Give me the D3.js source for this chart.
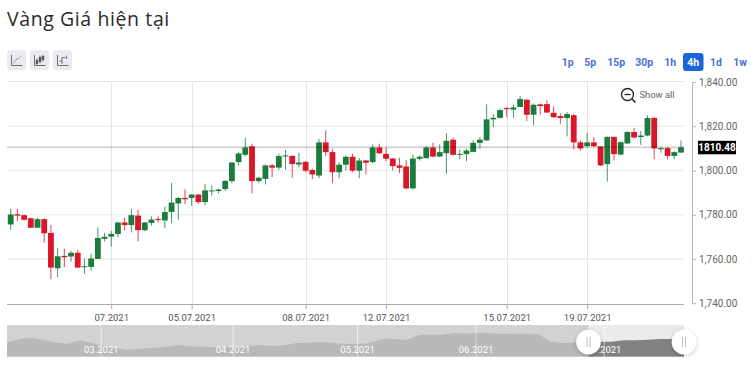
<!DOCTYPE html>
<html><head><meta charset="utf-8">
<script src="https://cdn.jsdelivr.net/npm/d3@7/dist/d3.min.js"></script>
<style>
html,body{margin:0;padding:0;background:#fff;overflow:hidden}
svg{display:block}
text{font-family:Roboto,sans-serif}
</style></head><body>
<div id="chart"></div>
<script>
const chartTitle = "Vàng Giá hiện tại";
const opens = [1775.6,1780.2,1779.8,1778.4,1774.1,1778.0,1771.8,1755.8,1761.4,1761.1,1762.8,1756.3,1756.4,1760.0,1769.1,1770.1,1771.3,1776.5,1775.3,1779.6,1773.0,1776.3,1778.1,1777.4,1781.3,1785.1,1787.6,1787.6,1789.1,1785.7,1790.7,1790.7,1791.6,1795.2,1803.8,1807.1,1810.9,1795.2,1796.2,1802.3,1801.3,1806.5,1806.6,1802.7,1803.9,1800.2,1797.7,1812.7,1808.3,1799.2,1802.6,1806.2,1799.9,1804.5,1803.8,1810.4,1807.5,1805.4,1802.3,1801.8,1791.9,1805.3,1805.6,1810.4,1806.3,1807.8,1813.9,1807.1,1807.4,1808.4,1812.5,1813.6,1823.1,1823.8,1828.2,1827.5,1828.7,1832.0,1825.2,1829.9,1830.0,1826.1,1824.6,1823.7,1825.0,1812.7,1811.0,1812.7,1810.9,1802.9,1815.2,1807.2,1812.2,1817.4,1815.1,1815.8,1823.8,1809.6,1810.1,1806.6,1808.1];
const highs = [1782.7,1782.7,1780.1,1778.7,1778.7,1778.3,1775.4,1765.0,1764.7,1763.7,1764.1,1760.3,1762.3,1774.2,1771.8,1772.6,1776.8,1778.7,1782.7,1782.2,1776.6,1779.2,1779.3,1783.7,1794.4,1787.9,1791.4,1789.4,1789.4,1794.0,1793.2,1791.7,1795.6,1803.9,1808.3,1814.8,1812.1,1797.0,1802.7,1803.0,1807.5,1809.3,1806.9,1808.0,1804.2,1800.8,1814.3,1818.1,1809.8,1803.8,1806.8,1807.5,1805.7,1804.8,1811.8,1812.1,1810.3,1805.7,1805.7,1804.8,1807.2,1806.8,1810.9,1812.5,1811.8,1816.9,1814.8,1809.5,1809.8,1813.6,1815.1,1829.9,1825.6,1828.0,1828.7,1829.7,1833.6,1832.1,1830.2,1830.2,1831.7,1828.9,1825.9,1826.5,1825.6,1813.6,1817.0,1815.1,1810.9,1815.4,1815.2,1813.1,1817.8,1819.2,1817.8,1824.9,1824.1,1810.6,1810.6,1808.7,1813.6];
const lows = [1773.2,1777.1,1777.4,1774.1,1774.1,1767.4,1750.8,1751.7,1756.3,1758.7,1756.1,1753.3,1754.8,1760.0,1768.0,1765.6,1769.8,1772.9,1772.0,1768.0,1772.6,1775.1,1776.6,1773.9,1776.2,1777.8,1784.9,1784.0,1784.9,1784.3,1788.7,1789.7,1790.7,1794.3,1802.3,1806.3,1789.7,1794.3,1793.7,1797.0,1800.3,1800.3,1796.7,1801.5,1799.2,1796.2,1796.5,1806.5,1794.3,1796.5,1800.0,1799.2,1796.5,1798.2,1803.3,1807.5,1804.2,1800.0,1798.8,1791.6,1791.4,1804.5,1805.3,1806.0,1806.0,1798.5,1806.8,1805.1,1804.2,1808.3,1809.8,1813.3,1819.6,1823.5,1824.1,1823.7,1828.7,1822.3,1820.4,1825.2,1825.9,1823.8,1821.1,1815.4,1809.5,1809.0,1810.6,1810.6,1802.0,1795.0,1804.5,1806.9,1812.1,1814.5,1811.6,1815.5,1805.1,1808.0,1805.0,1805.1,1807.9];
const closes = [1780.1,1779.6,1777.7,1774.1,1778.0,1771.6,1756.1,1761.2,1760.8,1762.8,1756.1,1756.7,1760.2,1769.5,1770.0,1771.3,1776.5,1775.3,1779.8,1773.0,1776.5,1777.8,1777.7,1781.2,1785.5,1787.6,1787.0,1789.1,1785.7,1791.0,1791.0,1791.4,1795.3,1803.6,1807.7,1810.4,1795.2,1796.7,1802.3,1801.3,1806.5,1806.8,1802.9,1803.6,1799.9,1798.2,1812.7,1808.3,1799.2,1802.6,1806.2,1799.9,1804.5,1803.5,1810.4,1807.8,1805.3,1802.0,1801.2,1791.9,1805.4,1806.2,1810.4,1806.3,1808.3,1813.4,1807.1,1807.5,1809.0,1812.5,1813.9,1823.1,1823.8,1827.3,1827.7,1828.5,1832.3,1825.2,1829.7,1829.1,1826.2,1824.1,1823.7,1825.5,1812.7,1810.0,1812.7,1811.0,1802.3,1815.2,1807.4,1812.8,1817.4,1814.9,1815.8,1823.7,1810.0,1810.1,1806.6,1808.3,1810.48];
const yTicks = [1740,1760,1780,1800,1820,1840];
const dateTickIndex = [15,27,44,56,74,86];
const dateTickLabels = ["07.2021","05.07.2021","08.07.2021","12.07.2021","15.07.2021","19.07.2021"];
const currentPrice = 1810.48;
const timeframes = ["1p","5p","15p","30p","1h","4h","1d","1w"];
const activeTimeframe = "4h";
const navPrices = [1787,1819,1831,1812,1787,1775,1806,1781,1750,1734,1719,1728,1734,1744,1762,1750,1747,1744,1741,1747,1753,1762,1753,1762,1781,1784,1791,1781,1772,1775,1778,1819,1822,1809,1853,1862,1859,1875,1869,1878,1872,1866,1869,1869,1862,1794,1781,1787,1787,1794,1794,1806,1806,1812,1819,1819,1800];
const navMonthLabels = ["03.2021","04.2021","05.2021","06.2021","07.2021"];
const navMonthIndex = [7.8,18.7,29,38.8,49.4];
const navSelection = [48.1,56];

const W=755,H=368;
const plot={l:7,r:684,t:81,b:304,axis:692};
const svg=d3.select("#chart").append("svg").attr("width",W).attr("height",H);

const x=d3.scaleLinear().domain([0,opens.length-1]).range([10.7,681]);
const y=d3.scaleLinear().domain([1740,1840]).range([303.2,82]);

svg.append("text").attr("x",7).attr("y",26).attr("font-size",19.5).attr("letter-spacing",0.6)
  .attr("fill","#2a2a2a").style("font-family","'Open Sans',sans-serif").text(chartTitle);

// chart-type buttons
const iconG=svg.append("g");
[7,30,53].forEach((bx,k)=>{
  const g=iconG.append("g").attr("transform",`translate(${bx},50)`);
  g.append("rect").attr("width",19).attr("height",20).attr("rx",3).attr("fill","#e9ebf0");
  g.append("path").attr("d","M4.5 5V15.5H15.5").attr("fill","none").attr("stroke","#5f6368").attr("stroke-width",0.9);
  if(k===0) g.append("path").attr("d","M6.5 13L9 9.5L11.5 8.5L14 6").attr("fill","none").attr("stroke","#777").attr("stroke-width",1).attr("stroke-dasharray","1.5 .6");
  if(k===1){
    [[7,10,14],[10,7,12],[13,6,10]].forEach(c=>{
      g.append("line").attr("x1",c[0]).attr("x2",c[0]).attr("y1",c[1]-1.5).attr("y2",c[2]+1.5).attr("stroke","#555").attr("stroke-width",.7);
      g.append("rect").attr("x",c[0]-1.2).attr("y",c[1]).attr("width",2.4).attr("height",c[2]-c[1]).attr("fill","#555");
    });
  }
  if(k===2) g.append("path").attr("d","M6.5 11H9V7.5H12.5M9 11V14M13.5 5.5V9").attr("fill","none").attr("stroke","#666").attr("stroke-width",.9);
});

// timeframes
const tfCenters={"1p":567.7,"5p":590.3,"15p":616.3,"30p":644.3,"1h":670.3,"4h":693.3,"1d":716,"1w":740};
svg.append("rect").attr("x",683).attr("y",53).attr("width",20.5).attr("height",18).attr("rx",3).attr("fill","#1b66d6");
svg.append("g").selectAll("text").data(timeframes).join("text")
  .attr("x",d=>tfCenters[d]).attr("y",65.5).attr("text-anchor","middle").attr("font-size",10.5).attr("font-weight",700)
  .attr("fill",d=>d===activeTimeframe?"#fff":"#4c6fd8").text(d=>d);

// grid
const grid=svg.append("g");
grid.append("line").attr("x1",plot.l).attr("x2",plot.r).attr("y1",81.5).attr("y2",81.5).attr("stroke","#e3e3e3");
grid.selectAll(".h").data(yTicks.slice(1,5)).join("line").attr("class","h")
  .attr("x1",plot.l).attr("x2",plot.r).attr("y1",d=>y(d)).attr("y2",d=>y(d)).attr("stroke","#eeeeee").attr("stroke-width",1.4);
grid.selectAll(".v").data(dateTickIndex).join("line").attr("class","v")
  .attr("x1",d=>Math.round(x(d))+.5).attr("x2",d=>Math.round(x(d))+.5).attr("y1",plot.t).attr("y2",plot.b).attr("stroke","#e3e3e3");

// candles
const idx=d3.range(opens.length);
const colour=i=>closes[i]>=opens[i]?"#1b7d3d":"#d8172a";
const candles=svg.append("g");
candles.selectAll("line").data(idx).join("line")
  .attr("x1",i=>x(i)).attr("x2",i=>x(i)).attr("y1",i=>y(highs[i])).attr("y2",i=>y(lows[i]))
  .attr("stroke",colour).attr("stroke-width",1).attr("stroke-opacity",.8);
candles.selectAll("rect").data(idx).join("rect")
  .attr("x",i=>x(i)-2.9).attr("width",5.8)
  .attr("y",i=>y(Math.max(opens[i],closes[i])))
  .attr("height",i=>Math.max(1,Math.abs(y(opens[i])-y(closes[i]))))
  .attr("fill",colour);

// current price line
svg.append("line").attr("x1",plot.l).attr("x2",plot.r).attr("y1",y(currentPrice)).attr("y2",y(currentPrice))
  .attr("stroke","#000").attr("stroke-opacity",.17).attr("stroke-width",2);

// axes
const xAxis=d3.axisBottom(x).tickValues(dateTickIndex).tickSize(5).tickPadding(5)
  .tickFormat((d,i)=>dateTickLabels[i]);
const xg=svg.append("g").attr("transform",`translate(0,${plot.b})`).call(xAxis);
xg.select(".domain").attr("d",`M${plot.l},0.5H${plot.r}`).attr("stroke","#aaa");
xg.selectAll(".tick line").attr("stroke","#aaa");
xg.selectAll("text").attr("font-size",9.5).attr("fill","#555").style("font-family","Roboto,sans-serif");

const yAxis=d3.axisRight(y).tickValues(yTicks).tickSize(4).tickPadding(3).tickFormat(d3.format(",.2f"));
const yg=svg.append("g").attr("transform",`translate(${plot.axis},0)`).call(yAxis);
yg.select(".domain").attr("d",`M0.5,${y(1840)}V${y(1740)}`).attr("stroke","#b5b5b5");
yg.selectAll(".tick line").attr("stroke","#b5b5b5");
yg.selectAll("text").attr("font-size",10).attr("fill","#666").style("font-family","Roboto,sans-serif");

// current price tag
svg.append("rect").attr("x",698).attr("y",y(currentPrice)-6.5).attr("width",38).attr("height",13.5).attr("fill","#000");
svg.append("text").attr("x",717).attr("y",y(currentPrice)+3.7).attr("text-anchor","middle").attr("font-size",10)
  .attr("font-weight",700).attr("fill","#fff").text(d3.format(".2f")(currentPrice));

// show all
const za=svg.append("g").attr("transform","translate(627.5,94.5)").attr("fill","none").attr("stroke","#222");
za.append("circle").attr("r",6).attr("stroke-width",1.3);
za.append("path").attr("d","M-3 0H3").attr("stroke-width",1.3);
za.append("path").attr("d","M4.5 4.5L8 8").attr("stroke-width",1.6);
svg.append("text").attr("x",639.5).attr("y",97.5).attr("font-size",9.4).attr("fill","#666").text("Show all");

// navigator
const nav={l:7,r:684,t:325,b:357};
const nx=d3.scaleLinear().domain([0,navPrices.length-1]).range([nav.l,nav.r]);
const ny=d3.scaleLinear().domain([1650,1950]).range([nav.b,nav.t]);
const area=d3.area().x((d,i)=>nx(i)).y0(nav.b).y1(d=>ny(d));
const defs=svg.append("defs");
defs.append("clipPath").attr("id","sel").append("rect")
  .attr("x",nx(navSelection[0])).attr("y",nav.t).attr("width",nx(navSelection[1])-nx(navSelection[0])).attr("height",nav.b-nav.t);
const f=defs.append("filter").attr("id","sh").attr("x","-40%").attr("y","-40%").attr("width","180%").attr("height","180%");
f.append("feDropShadow").attr("dx",0).attr("dy",1).attr("stdDeviation",2).attr("flood-color","#000").attr("flood-opacity",.25);
svg.append("rect").attr("x",nav.l).attr("y",nav.t).attr("width",nav.r-nav.l).attr("height",nav.b-nav.t).attr("fill","#d2d2d2");
svg.append("path").datum(navPrices).attr("d",area).attr("fill","#b9b9b9");
const selG=svg.append("g").attr("clip-path","url(#sel)");
selG.append("rect").attr("x",nav.l).attr("y",nav.t).attr("width",nav.r-nav.l).attr("height",nav.b-nav.t).attr("fill","#ebebeb");
selG.append("path").datum(navPrices).attr("d",area).attr("fill","#828282");
svg.append("g").selectAll("line").data(navMonthIndex).join("line")
  .attr("x1",d=>nx(d)).attr("x2",d=>nx(d)).attr("y1",nav.t).attr("y2",nav.b).attr("stroke","#fff").attr("stroke-opacity",.55);
svg.append("g").selectAll("text").data(navMonthLabels).join("text")
  .attr("x",(d,i)=>nx(navMonthIndex[i])).attr("y",353).attr("text-anchor","middle").attr("font-size",9.5).attr("fill","#fff").text(d=>d);
svg.append("line").attr("x1",nav.l).attr("x2",nav.r).attr("y1",356.5).attr("y2",356.5).attr("stroke","#fff").attr("stroke-opacity",.3);
const handles=svg.append("g").selectAll("g").data(navSelection).join("g").attr("transform",d=>`translate(${nx(d)},342)`);
handles.append("circle").attr("r",12.3).attr("fill","#fff").attr("filter","url(#sh)");
handles.selectAll("line").data([-1.5,1.5]).join("line").attr("x1",d=>d).attr("x2",d=>d).attr("y1",-5).attr("y2",5).attr("stroke","#bdbdbd");
</script>
</body></html>
